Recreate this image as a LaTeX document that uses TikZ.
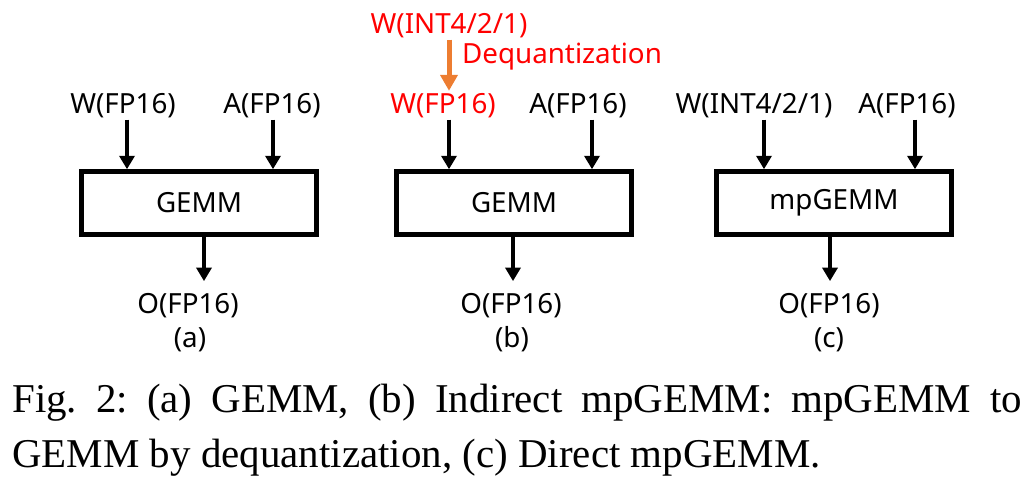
\documentclass[tikz,border=0pt]{standalone}
\usepackage{fontspec}
\setmainfont{Liberation Serif}
\newfontfamily\diagfont{Noto Sans}
\usetikzlibrary{arrows.meta}

\definecolor{deq} {RGB}{237,125,49}
\definecolor{lowbit} {RGB}{255,0,0}

\begin{document}
\begin{tikzpicture}[x=0.02cm,y=-0.02cm,
    lbl/.style={font=\diagfont\fontsize{15.8}{19}\selectfont,inner sep=1pt,anchor=base},
    olbl/.style={lbl,outer ysep=0.2cm},
    gemm/.style={draw,line width=0.09cm,minimum width=4.7cm,minimum height=1.26cm,
      inner sep=0pt,font=\diagfont\fontsize{15.8}{19}\selectfont},
    arr/.style={line width=0.08cm,arrows={-Triangle[width=0.3cm,length=0.27cm]}}]

    \useasboundingbox (0,0) rectangle (1031,481);

    % (a) GEMM
    \node[gemm] (ga) at (199,203) {GEMM};
    \node[lbl] (wa) at (123,113) {W(FP16)};
    \node[lbl] (aa) at (272,113) {A(FP16)};
    \node[olbl] (oa) at (188,313) {O(FP16)};
    \node[lbl] (la) at (190,347) {(a)};
    \path ([xshift=0.08cm]wa.south) coordinate (wa0)
          ([xshift=0.02cm]aa.south) coordinate (aa0)
          ([xshift=0.1cm]ga.south) coordinate (ga0);
    \draw[arr] (wa0) to (wa0 |- ga.north);
    \draw[arr] (aa0) to (aa0 |- ga.north);
    \draw[arr] (ga0) to (ga0 |- oa.north);

    % (b) indirect mpGEMM
    \node[gemm] (gb) at (514,203) {GEMM};
    \node[lbl,text=lowbit] (wb) at (443,113) {W(FP16)};
    \node[lbl] (ab) at (578,113) {A(FP16)};
    \node[olbl] (ob) at (511,313) {O(FP16)};
    \node[lbl] (lb) at (512,347) {(b)};
    \node[lbl,text=lowbit] (wq) at (449,33) {W(INT4/2/1)};
    \node[lbl,text=lowbit,anchor=base west] (dq) at (460,63) {Dequantization};
    \path ([xshift=0.12cm]wb.south) coordinate (wb0)
          ([xshift=0.28cm]ab.south) coordinate (ab0)
          ([xshift=-0.02cm]gb.south) coordinate (gb0);
    \draw[arr] (wb0) to (wb0 |- gb.north);
    \draw[arr] (ab0) to (ab0 |- gb.north);
    \draw[arr] (gb0) to (gb0 |- ob.north);
    \draw[deq,line width=0.1cm,arrows={-Triangle[width=0.34cm,length=0.32cm]}] (wq.south) to (wq.south |- wb.north);

    % (c) direct mpGEMM
    \node[gemm] (gc) at (834,203) {mpGEMM};
    \node[lbl] (wc) at (754,113) {W(INT4/2/1)};
    \node[lbl] (ac) at (907,113) {A(FP16)};
    \node[olbl] (oc) at (829,313) {O(FP16)};
    \node[lbl] (lc) at (829,347) {(c)};
    \path ([xshift=0.2cm]wc.south) coordinate (wc0)
          ([xshift=0.16cm]ac.south) coordinate (ac0)
          ([xshift=-0.08cm]gc.south) coordinate (gc0);
    \draw[arr] (wc0) to (wc0 |- gc.north);
    \draw[arr] (ac0) to (ac0 |- gc.north);
    \draw[arr] (gc0) to (gc0 |- oc.north);

    % caption
    \node[anchor=north west,text width=20.2cm,align=justify,inner sep=0pt,
      font=\fontsize{23.3}{31.3}\selectfont\frenchspacing] (cap) at (12,384)
      {Fig.~2: (a) GEMM, (b) Indirect mpGEMM: mpGEMM to\linebreak GEMM by dequantization, (c) Direct mpGEMM.};

\end{tikzpicture}
\end{document}
